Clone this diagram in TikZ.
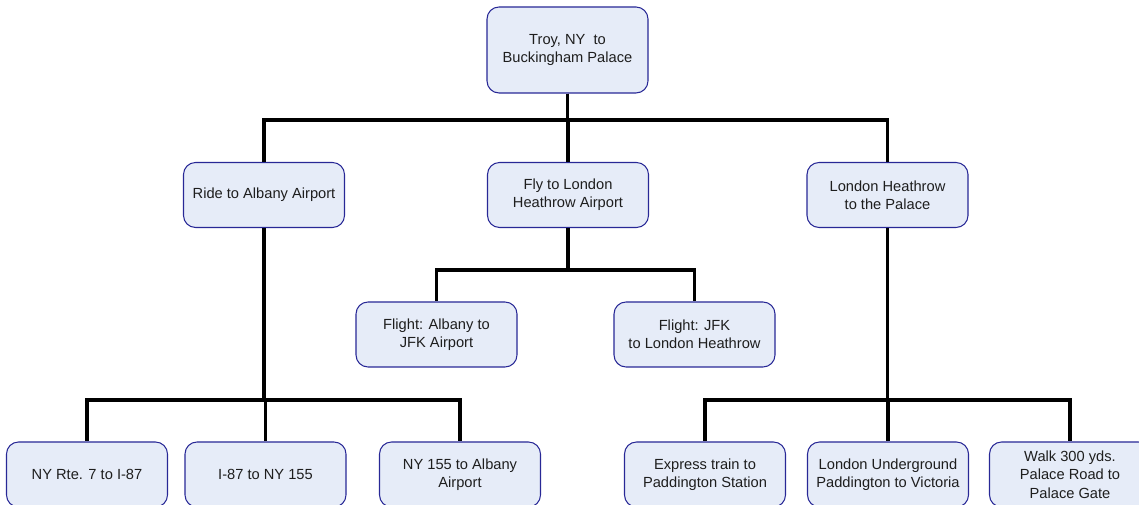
\documentclass[tikz,border=0pt]{standalone}
\usepackage{fontspec}
\setmainfont{Liberation Sans}
\definecolor{boxfill}{RGB}{230,236,248}
\definecolor{boxline}{RGB}{40,40,150}
\definecolor{boxtext}{RGB}{30,30,30}
\tikzset{
  task/.style={
    draw=boxline, fill=boxfill, line width=0.8pt,
    rounded corners=9pt, align=center, text=boxtext,
    minimum width=120.75pt, minimum height=48.75pt,
    inner sep=2pt, font=\fontsize{11}{13.75}\selectfont
  },
  link/.style={line width=2.3pt, black}
}

\begin{document}
\begin{tikzpicture}[x=0.75pt, y=-0.75pt]
  \clip (0,0) rectangle (1139,505);

  % корень
  \node[task, minimum height=64.5pt] (root) at (567.5,50)
    {Troy, NY~ to\\Buckingham Palace};

  % первый уровень
  \node[task] (ride)  at (264,195)   {Ride to Albany Airport};
  \node[task] (fly)   at (568,195)   {Fly to London\\Heathrow Airport};
  \node[task] (heath) at (887.5,195) {London Heathrow\\to the Palace};

  % второй уровень
  \node[task] (albjfk) at (436.5,334.5) {Flight: Albany to\\JFK Airport};
  \node[task] (jfklhr) at (694.5,334.5) {Flight: JFK\\to London Heathrow};

  \node[task] (rte)   at (87,474.5)    {NY Rte. 7 to I-87};
  \node[task] (ieight) at (265.5,474.5) {I-87 to NY 155};
  \node[task] (nyone) at (460,474.5)   {NY 155 to Albany\\Airport};
  \node[task] (expr)  at (705,474.5)   {Express train to\\Paddington Station};
  \node[task] (tube)  at (888,474.5)   {London Underground\\Paddington to Victoria};
  \node[task] (walk)  at (1070,474.5)  {Walk 300 yds.\\Palace Road to\\Palace Gate};

  % уровни шин
  \coordinate (busA) at (0,120);
  \coordinate (busB) at (0,270);
  \coordinate (busC) at (0,400);

  \foreach \kid in {ride,fly,heath}
    \draw[link] (root.south) -- (root.south |- busA) -| (\kid.north);
  \foreach \kid in {albjfk,jfklhr}
    \draw[link] (fly.south) -- (fly.south |- busB) -| (\kid.north);
  \foreach \kid in {rte,ieight,nyone}
    \draw[link] (ride.south) -- (ride.south |- busC) -| (\kid.north);
  \foreach \kid in {expr,tube,walk}
    \draw[link] (heath.south) -- (heath.south |- busC) -| (\kid.north);
\end{tikzpicture}
\end{document}
